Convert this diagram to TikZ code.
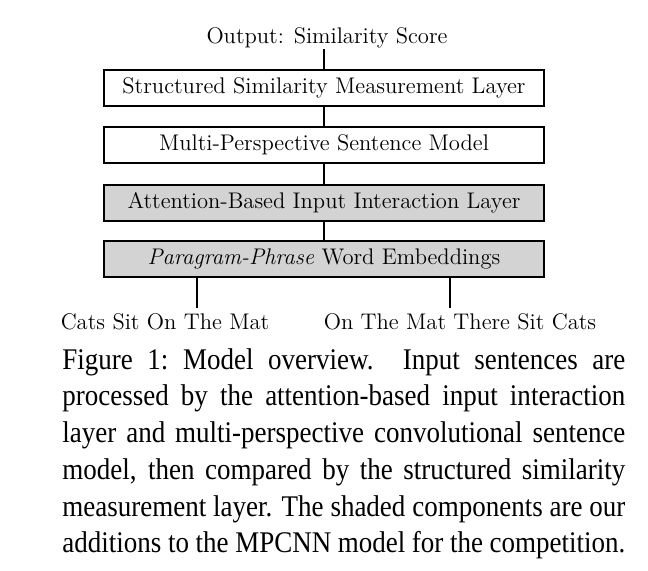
\documentclass[tikz,border=0pt]{standalone}
\usepackage{fontspec}
\newfontfamily\capfont[FakeStretch=0.9]{Liberation Serif}
\definecolor{boxgray}{RGB}{211,211,211}
\begin{document}
\begin{tikzpicture}[x=0.5pt,y=-0.5pt,
  layerbox/.style={draw, line width=1pt, minimum width=220pt, minimum height=18pt, inner sep=0pt, font=\fontsize{11.3}{13}\selectfont},
  shadedbox/.style={layerbox, fill=boxgray},
  lbl/.style={inner sep=0pt, font=\fontsize{11.3}{13}\selectfont},
  conn/.style={line width=1pt}]
\useasboundingbox (0,0) rectangle (648,570);
\node[lbl] (out) at (327,38) {Output: Similarity Score};
\node[layerbox] (ssm) at (324,88) {Structured Similarity Measurement Layer};
\node[layerbox] (mps) at (324,145) {Multi-Perspective Sentence Model};
\node[shadedbox] (att) at (324,202.5) {Attention-Based Input Interaction Layer};
\node[shadedbox] (emb) at (324,259) {\textit{Paragram-Phrase} Word Embeddings};
\node[lbl] (s1) at (165,322) {Cats Sit On The Mat};
\node[lbl] (s2) at (460,322) {On The Mat There Sit Cats};
\coordinate (t1) at (197,308);
\coordinate (t2) at (450,308);
\draw[conn] (ssm.north) -- (ssm.north |- out.south);
\draw[conn] (ssm) -- (mps);
\draw[conn] (mps) -- (att);
\draw[conn] (att) -- (emb);
\draw[conn] (emb.south -| t1) -- (t1);
\draw[conn] (emb.south -| t2) -- (t2);
\node[anchor=north west, inner sep=0pt, align=left, font=\capfont\fontsize{15}{18.35}\selectfont] (cap) at (62,348) {%
\hbox to 281.5pt{Figure 1:\ Model overview.\ \ Input sentences are}\\
\hbox to 281.5pt{processed by the attention-based input interaction}\\
\hbox to 281.5pt{layer and multi-perspective convolutional sentence}\\
\hbox to 281.5pt{model, then compared by the structured similarity}\\
\hbox to 281.5pt{measurement layer. The shaded components are our}\\
\hbox to 281.5pt{additions to the MPCNN model for the competition.}};
\end{tikzpicture}
\end{document}
